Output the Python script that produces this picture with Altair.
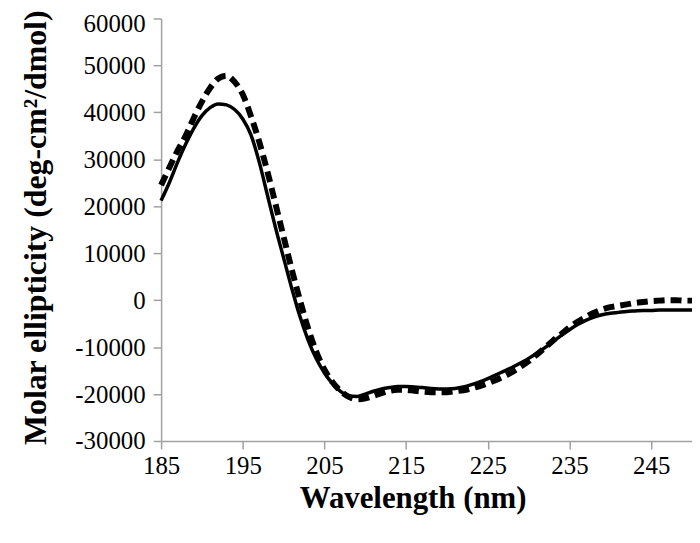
import altair as alt
import pandas as pd

wavelength = list(range(185, 251))

solid = [21.2, 25.0, 29.3, 33.2, 36.6, 39.3, 41.0, 41.8, 41.6, 40.6,
         38.6, 35.2, 29.5, 22.5, 15.5, 9.0, 2.5, -3.5, -8.5, -12.5,
         -15.5, -17.8, -19.5, -20.4, -20.5, -20.0, -19.4, -18.9, -18.6, -18.4,
         -18.4, -18.5, -18.6, -18.8, -18.9, -18.9, -18.8, -18.5, -18.0, -17.4,
         -16.7, -15.9, -15.1, -14.3, -13.4, -12.4, -11.3, -10.1, -8.8, -7.5,
         -6.3, -5.2, -4.3, -3.6, -3.1, -2.8, -2.6, -2.4, -2.3, -2.2,
         -2.2, -2.1, -2.1, -2.1, -2.1, -2.1]

dashed = [24.5, 28.2, 31.8, 35.0, 38.8, 42.3, 45.2, 47.2, 47.8, 46.5,
          43.8, 39.2, 33.8, 27.5, 20.5, 13.5, 6.5, 0.0, -6.0, -11.0,
          -14.8, -17.5, -19.4, -20.6, -21.1, -20.9, -20.4, -19.8, -19.3, -19.1,
          -19.1, -19.3, -19.5, -19.6, -19.6, -19.6, -19.4, -19.2, -18.8, -18.3,
          -17.7, -17.0, -16.2, -15.3, -14.2, -13.0, -11.6, -10.1, -8.6, -7.2,
          -5.8, -4.6, -3.6, -2.7, -2.0, -1.5, -1.2, -0.9, -0.6, -0.4,
          -0.2, -0.1, 0.0, 0.0, -0.1, -0.1]

x_ticks = [185, 195, 205, 215, 225, 235, 245]
y_ticks = [-30000, -20000, -10000, 0, 10000, 20000, 30000, 40000, 50000, 60000]

df = pd.DataFrame({
    "wl": wavelength * 2,
    "val": [v * 1000 for v in solid] + [v * 1000 for v in dashed],
    "series": ["solid"] * len(solid) + ["dashed"] * len(dashed),
})

FONT = "Liberation Serif"
GRAY = "#A0A0A0"
LBL = "datum.value < 0 ? '-' + format(-datum.value, 'd') : format(datum.value, 'd')"

x = alt.X("wl:Q", scale=alt.Scale(domain=[185, 250], nice=False, zero=False),
          axis=alt.Axis(values=x_ticks, title="Wavelength (nm)", grid=False,
                        domainColor=GRAY, domainWidth=1.5, tickColor=GRAY, tickWidth=1.5,
                        tickSize=8, labelFont=FONT, labelFontSize=25, labelColor="black",
                        labelPadding=5, labelExpr=LBL, titleFont=FONT, titleFontSize=31,
                        titleFontWeight="bold", titleColor="black", titlePadding=5,
                        titleX=253, labelFlush=False))
y = alt.Y("val:Q", scale=alt.Scale(domain=[-30000, 60000], nice=False),
          axis=alt.Axis(values=y_ticks, title="Molar ellipticity (deg-cm\u00b2/dmol)", grid=False,
                        domainColor=GRAY, domainWidth=1.5, tickColor=GRAY, tickWidth=1.5,
                        tickSize=8, labelFont=FONT, labelFontSize=25, labelColor="black",
                        labelPadding=8, labelExpr=LBL, titleFont=FONT, titleFontSize=32,
                        labelOffset={"condition": {"test": "datum.value == 60000", "value": 5},
                                     "value": 0},
                        titleFontWeight="bold", titleColor="black",
                        titleBaseline="middle", titleX=-126, titleY=210, labelFlush=False))

solid_line = alt.Chart(df).transform_filter(alt.datum.series == "solid").mark_line(
    color="black", strokeWidth=3.5, interpolate="monotone").encode(x=x, y=y)
dashed_line = alt.Chart(df).transform_filter(alt.datum.series == "dashed").mark_line(
    color="black", strokeWidth=6, strokeDash=[11, 6], interpolate="monotone").encode(x=x, y=y)

chart = alt.layer(solid_line, dashed_line).properties(
    width=534, height=425,
    autosize=alt.AutoSizeParams(type="none"),
    padding={"left": 154, "top": 9, "right": 0, "bottom": 90},
).configure_view(stroke=None)

chart.save("out.html", embed_options={"renderer": "svg", "actions": False})
